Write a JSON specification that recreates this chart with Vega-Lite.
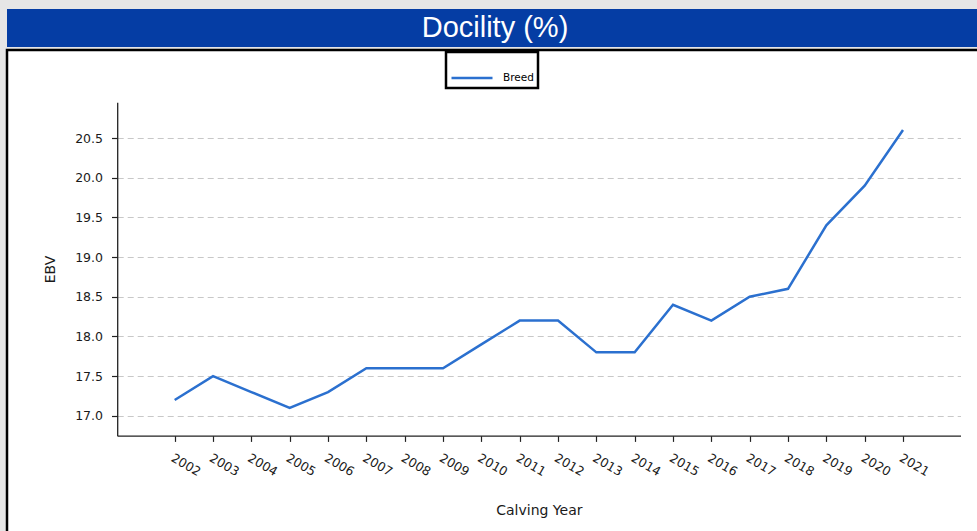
{
  "$schema": "https://vega.github.io/schema/vega-lite/v6.json",
  "background": "#e6e6e6",
  "padding": {"left": 5, "top": 9, "right": 0, "bottom": 0},
  "spacing": 1,
  "config": {
    "view": {"stroke": null},
    "font": "DejaVu Sans",
    "legend": {"strokeColor": "#000000", "strokeWidth": 2.5, "fillColor": "#ffffff", "padding": 4}
  },
  "vconcat": [
    {
      "width": 976,
      "height": 38,
      "view": {"fill": "#053da4", "stroke": null},
      "data": {"values": [{"label": "Docility (%)"}]},
      "mark": {"type": "text", "font": "Liberation Sans", "fontSize": 29, "color": "#ffffff", "baseline": "middle", "align": "center"},
      "encoding": {"text": {"field": "label"}}
    },
    {
      "width": 980,
      "height": 486,
      "view": {"fill": "#ffffff", "stroke": "#000000", "strokeWidth": 2.5},
      "data": {"values": [
        {"year": 2002, "ebv": 17.2, "series": "Breed"},
        {"year": 2003, "ebv": 17.5, "series": "Breed"},
        {"year": 2004, "ebv": 17.3, "series": "Breed"},
        {"year": 2005, "ebv": 17.1, "series": "Breed"},
        {"year": 2006, "ebv": 17.3, "series": "Breed"},
        {"year": 2007, "ebv": 17.6, "series": "Breed"},
        {"year": 2008, "ebv": 17.6, "series": "Breed"},
        {"year": 2009, "ebv": 17.6, "series": "Breed"},
        {"year": 2010, "ebv": 17.9, "series": "Breed"},
        {"year": 2011, "ebv": 18.2, "series": "Breed"},
        {"year": 2012, "ebv": 18.2, "series": "Breed"},
        {"year": 2013, "ebv": 17.8, "series": "Breed"},
        {"year": 2014, "ebv": 17.8, "series": "Breed"},
        {"year": 2015, "ebv": 18.4, "series": "Breed"},
        {"year": 2016, "ebv": 18.2, "series": "Breed"},
        {"year": 2017, "ebv": 18.5, "series": "Breed"},
        {"year": 2018, "ebv": 18.6, "series": "Breed"},
        {"year": 2019, "ebv": 19.4, "series": "Breed"},
        {"year": 2020, "ebv": 19.9, "series": "Breed"},
        {"year": 2021, "ebv": 20.6, "series": "Breed"}
      ]},
      "mark": {"type": "line", "strokeWidth": 2.5},
      "encoding": {
        "x": {
          "field": "year",
          "type": "quantitative",
          "scale": {"domain": [2000.5, 2022.5], "range": [110.2, 953.5], "nice": false, "zero": false},
          "axis": {
            "title": "Calving Year",
            "values": [2002, 2003, 2004, 2005, 2006, 2007, 2008, 2009, 2010, 2011, 2012, 2013, 2014, 2015, 2016, 2017, 2018, 2019, 2020, 2021],
            "format": "d",
            "offset": -100.3,
            "grid": false,
            "labelAngle": 30,
            "labelAlign": "left",
            "labelBaseline": "top",
            "labelPadding": 10,
            "labelFontSize": 12.5,
            "labelColor": "#1a1a1a",
            "labelFont": "DejaVu Sans",
            "labelOverlap": false,
            "tickSize": 5.7,
            "tickColor": "#222222",
            "tickWidth": 1.2,
            "domainColor": "#222222",
            "domainWidth": 1.3,
            "titleFont": "DejaVu Sans",
            "titleFontSize": 14,
            "titleFontWeight": "normal",
            "titleColor": "#1a1a1a",
            "titlePadding": 25
          }
        },
        "y": {
          "field": "ebv",
          "type": "quantitative",
          "scale": {"domain": [16.75, 20.95], "range": [385.7, 52.3], "nice": false, "zero": false},
          "axis": {
            "title": "EBV",
            "values": [17, 17.5, 18, 18.5, 19, 19.5, 20, 20.5],
            "format": ".1f",
            "offset": -110.2,
            "grid": true,
            "gridDash": [6, 4],
            "gridColor": "#c8c8c8",
            "gridWidth": 1.2,
            "labelPadding": 9,
            "labelFontSize": 12.5,
            "labelColor": "#1a1a1a",
            "labelFont": "DejaVu Sans",
            "tickSize": 5.7,
            "tickColor": "#222222",
            "tickWidth": 1.2,
            "domainColor": "#222222",
            "domainWidth": 1.3,
            "titleFont": "DejaVu Sans",
            "titleFontSize": 14,
            "titleFontWeight": "normal",
            "titleColor": "#1a1a1a",
            "titlePadding": 17
          }
        },
        "color": {
          "field": "series",
          "type": "nominal",
          "scale": {"range": ["#2b70cf"]},
          "legend": {
            "title": null,
            "orient": "none",
            "legendX": 439,
            "legendY": 43,
            "symbolType": "stroke",
            "symbolSize": 1681,
            "symbolStrokeWidth": 2.5,
            "labelFontSize": 10.5,
            "labelFont": "DejaVu Sans",
            "labelColor": "#000000",
            "labelOffset": 9
          }
        }
      }
    }
  ]
}
